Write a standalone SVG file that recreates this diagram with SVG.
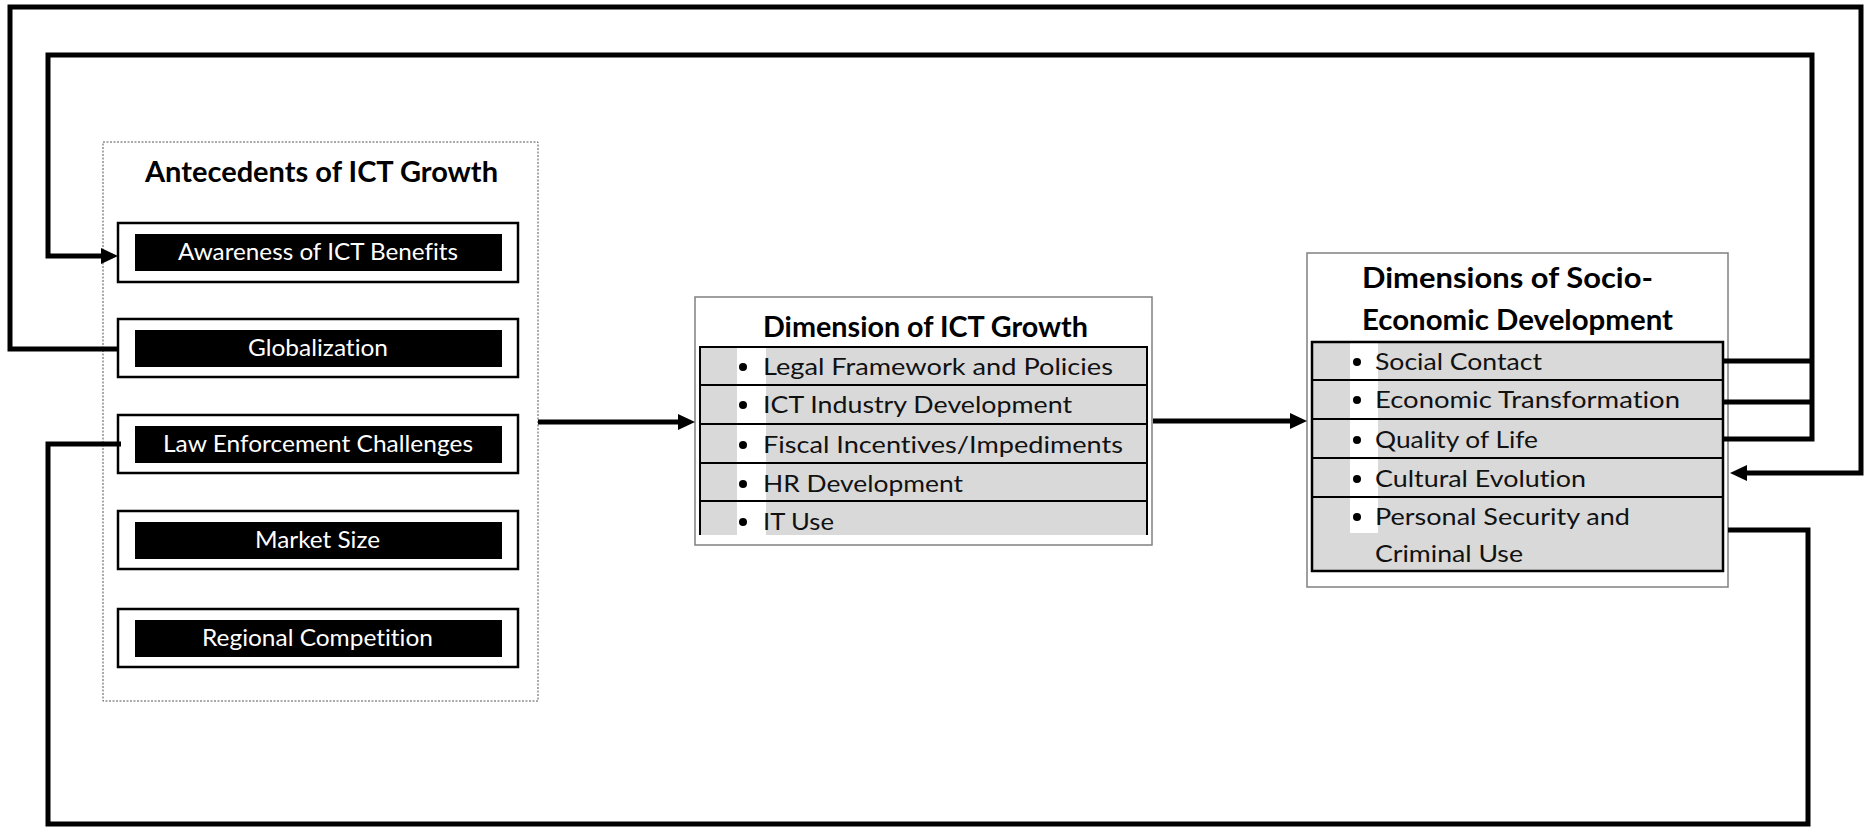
<svg xmlns="http://www.w3.org/2000/svg" width="1868" height="827" viewBox="0 0 1868 827">
<style>
text{font-variant-ligatures:none}
.title{font-family:Lato,"Liberation Sans",sans-serif;font-weight:bold;font-size:28px;fill:#000}
.btxt{font-family:Lato,"Liberation Sans",sans-serif;font-size:24px;fill:#fff}
.rtxt{font-family:Lato,"Liberation Sans",sans-serif;font-size:24px;fill:#111}
.obox{fill:#fff;stroke:#000;stroke-width:2.5}
.ibar{fill:#000}
.conn{fill:none;stroke:#000;stroke-width:5;stroke-linejoin:miter}
.rowline{stroke:#000;stroke-width:2;fill:none}
.gray{fill:#d9d9d9}
.strip{fill:#fff}
</style>
<defs>
<marker id="arr" markerUnits="userSpaceOnUse" markerWidth="18" markerHeight="17" refX="0" refY="8" orient="auto">
<path d="M0,0 L17,8 L0,16 z" fill="#000"/>
</marker>
</defs>
<rect x="0" y="0" width="1868" height="827" fill="#fff"/>

<g id="antecedents">
<rect x="103" y="142" width="435" height="559" fill="#fff" stroke="#555" stroke-width="1" stroke-dasharray="2,1.5"/>
<text class="title" x="145" y="182" textLength="353" lengthAdjust="spacingAndGlyphs">Antecedents of ICT Growth</text>
</g>
<g id="awareness">
<rect class="obox" x="118" y="223" width="400" height="59"/>
<rect class="ibar" x="135" y="234" width="367" height="37"/>
<text class="btxt" x="178" y="260" textLength="280" lengthAdjust="spacingAndGlyphs">Awareness of ICT Benefits</text>
</g>
<g id="globalization">
<rect class="obox" x="118" y="319" width="400" height="58"/>
<rect class="ibar" x="135" y="330" width="367" height="37"/>
<text class="btxt" x="248" y="356" textLength="140" lengthAdjust="spacingAndGlyphs">Globalization</text>
</g>
<g id="law">
<rect class="obox" x="118" y="415" width="400" height="58"/>
<rect class="ibar" x="135" y="426" width="367" height="37"/>
<text class="btxt" x="163" y="452" textLength="310" lengthAdjust="spacingAndGlyphs">Law Enforcement Challenges</text>
</g>
<g id="market">
<rect class="obox" x="118" y="511" width="400" height="58"/>
<rect class="ibar" x="135" y="522" width="367" height="37"/>
<text class="btxt" x="255" y="548" textLength="125" lengthAdjust="spacingAndGlyphs">Market Size</text>
</g>
<g id="regional">
<rect class="obox" x="118" y="609" width="400" height="58"/>
<rect class="ibar" x="135" y="620" width="367" height="37"/>
<text class="btxt" x="202" y="646" textLength="231" lengthAdjust="spacingAndGlyphs">Regional Competition</text>
</g>

<g id="ict-growth">
<rect x="695" y="297" width="457" height="248" fill="#fff" stroke="#808080" stroke-width="1.5"/>
<text class="title" x="763" y="337" textLength="325" lengthAdjust="spacingAndGlyphs">Dimension of ICT Growth</text>
<rect class="gray" x="700" y="347" width="447" height="188"/>
<rect class="strip" x="737" y="347" width="29" height="188"/>
<path class="rowline" d="M700,535 V347 H1147 V535 M700,385 H1147 M700,424 H1147 M700,463 H1147 M700,501 H1147"/>
<g fill="#000">
<circle cx="743" cy="367" r="4"/><circle cx="743" cy="405" r="4"/><circle cx="743" cy="445" r="4"/><circle cx="743" cy="484" r="4"/><circle cx="743" cy="522" r="4"/>
</g>
<text class="rtxt" x="763" y="375" textLength="350" lengthAdjust="spacingAndGlyphs">Legal Framework and Policies</text>
<text class="rtxt" x="763" y="413" textLength="309" lengthAdjust="spacingAndGlyphs">ICT Industry Development</text>
<text class="rtxt" x="763" y="453" textLength="360" lengthAdjust="spacingAndGlyphs">Fiscal Incentives/Impediments</text>
<text class="rtxt" x="763" y="492" textLength="200" lengthAdjust="spacingAndGlyphs">HR Development</text>
<text class="rtxt" x="763" y="530" textLength="71" lengthAdjust="spacingAndGlyphs">IT Use</text>
</g>

<g id="socio-economic">
<rect x="1307" y="253" width="421" height="334" fill="#fff" stroke="#808080" stroke-width="1.5"/>
<text class="title" x="1362" y="288" textLength="291" lengthAdjust="spacingAndGlyphs">Dimensions of Socio-</text>
<text class="title" x="1362" y="330" textLength="311" lengthAdjust="spacingAndGlyphs">Economic Development</text>
<rect class="gray" x="1312" y="342" width="411" height="229"/>
<rect class="strip" x="1350" y="342" width="28" height="191"/>
<rect x="1312" y="342" width="411" height="229" fill="none" stroke="#000" stroke-width="2.5"/>
<path class="rowline" d="M1312,380 H1723 M1312,419 H1723 M1312,458 H1723 M1312,497 H1723"/>
<g fill="#000">
<circle cx="1357" cy="362" r="4"/><circle cx="1357" cy="400" r="4"/><circle cx="1357" cy="440" r="4"/><circle cx="1357" cy="479" r="4"/><circle cx="1357" cy="517" r="4"/>
</g>
<text class="rtxt" x="1375" y="370" textLength="167" lengthAdjust="spacingAndGlyphs">Social Contact</text>
<text class="rtxt" x="1375" y="408" textLength="305" lengthAdjust="spacingAndGlyphs">Economic Transformation</text>
<text class="rtxt" x="1375" y="448" textLength="163" lengthAdjust="spacingAndGlyphs">Quality of Life</text>
<text class="rtxt" x="1375" y="487" textLength="211" lengthAdjust="spacingAndGlyphs">Cultural Evolution</text>
<text class="rtxt" x="1375" y="525" textLength="255" lengthAdjust="spacingAndGlyphs">Personal Security and</text>
<text class="rtxt" x="1375" y="562" textLength="148" lengthAdjust="spacingAndGlyphs">Criminal Use</text>
</g>

<g id="connectors">
<path class="conn" d="M538,422 H678" marker-end="url(#arr)"/>
<path class="conn" d="M1153,421 H1290" marker-end="url(#arr)"/>
<path class="conn" d="M118,349 H10 V7 H1861 V473 H1747" marker-end="url(#arr)"/>
<path class="conn" d="M1723,361 H1812 M1723,402 H1812 M1723,439 H1812 V55 H48 V256 H101" marker-end="url(#arr)"/>
<path class="conn" d="M1728,530 H1808 V824 H48 V444 H121"/>
</g>
</svg>
